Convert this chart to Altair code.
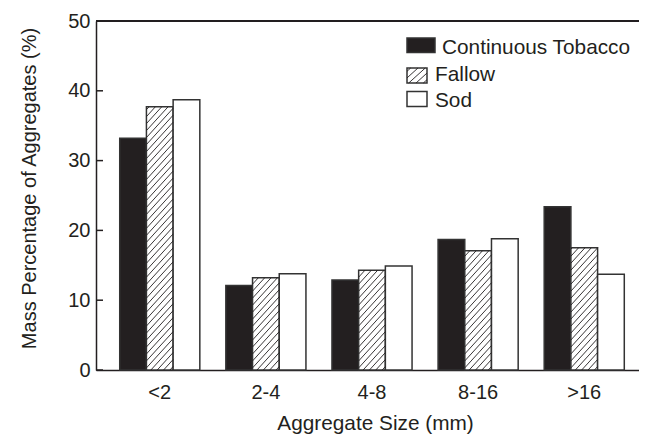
import altair as alt
import pandas as pd
import numpy as np

categories = ["<2", "2-4", "4-8", "8-16", ">16"]
series = ["Continuous Tobacco", "Fallow", "Sod"]
tobacco = [33.2, 12.1, 12.9, 18.7, 23.4]
fallow = [37.7, 13.2, 14.3, 17.1, 17.5]
sod = [38.7, 13.8, 14.9, 18.8, 13.7]
y_ticks = [0, 10, 20, 30, 40, 50]

PLOT_W, PLOT_H = 543, 349
BAR_W = 0.2516
X_DOMAIN = [-0.601, 4.516]
Y_DOMAIN = [0, 50]
INK = "#231f20"
FONT = "Liberation Sans"


def px_to_x(px):
    return X_DOMAIN[0] + px / PLOT_W * (X_DOMAIN[1] - X_DOMAIN[0])


def py_to_y(py):
    return Y_DOMAIN[1] - py / PLOT_H * (Y_DOMAIN[1] - Y_DOMAIN[0])


# ---- bars ----
rows = []
for j, (name, vals) in enumerate(zip(series, [tobacco, fallow, sod])):
    for i, v in enumerate(vals):
        x0 = i + (j - 1) * BAR_W - BAR_W / 2
        rows.append({"series": name, "value": v, "x0": x0, "x1": x0 + BAR_W, "base": 0})
bars_df = pd.DataFrame(rows)


def hatch(xl, xr, lo, hi, rise, step):
    segs = []
    for y0 in np.arange(lo - rise + step / 2, hi, step):
        xa, ya, xb, yb = xl, y0, xr, y0 + rise
        if ya < lo:
            xa = xl + (lo - y0) / rise * (xr - xl)
            ya = lo
        if yb > hi:
            xb = xl + (hi - y0) / rise * (xr - xl)
            yb = hi
        if xb - xa > 1e-6:
            segs.append((xa, ya, xb, yb))
    return segs


# ---- manual legend (pixel positions in plot area, converted to data units) ----
leg_px = {
    "sx0": [311, 311, 311], "sx1": [339, 331, 331],
    "sy0": [17, 47, 70.5], "sy1": [31.5, 62, 85.5],
    "tx": [346, 339, 339], "ty": [33, 60, 85.5],
}
leg_df = pd.DataFrame({
    "series": series,
    "x0": [px_to_x(v) for v in leg_px["sx0"]],
    "x1": [px_to_x(v) for v in leg_px["sx1"]],
    "value": [py_to_y(v) for v in leg_px["sy0"]],
    "base": [py_to_y(v) for v in leg_px["sy1"]],
    "tx": [px_to_x(v) for v in leg_px["tx"]],
    "ty": [py_to_y(v) for v in leg_px["ty"]],
})

hrows = []
for r in bars_df[bars_df.series == "Fallow"].itertuples():
    for (xa, ya, xb, yb) in hatch(r.x0, r.x1, 0, r.value, 4.2, 1.0):
        hrows.append({"hx0": xa, "hy0": ya, "hx1": xb, "hy1": yb})
fl = leg_df[leg_df.series == "Fallow"].iloc[0]
for (xa, ya, xb, yb) in hatch(fl.x0, fl.x1, fl.base, fl.value, 2.6, 0.95):
    hrows.append({"hx0": xa, "hy0": ya, "hx1": xb, "hy1": yb})
hatch_df = pd.DataFrame(hrows)

xscale = alt.Scale(domain=X_DOMAIN, nice=False, zero=False)
yscale = alt.Scale(domain=Y_DOMAIN, nice=False)

x_axis = alt.Axis(orient="bottom", values=[0], labels=False, ticks=False, tickSize=0, grid=False,
                  domainColor=INK, domainWidth=1.5,
                  title="Aggregate Size (mm)",
                  titleFontSize=20.8, titleFontWeight="normal", titleColor=INK,
                  titleX=279, titleY=59, titleBaseline="alphabetic")
y_axis = alt.Axis(orient="left", values=y_ticks, ticks=False, tickSize=0, grid=False,
                  domainColor=INK, domainWidth=1.5,
                  labelFontSize=20, labelColor=INK, labelPadding=6,
                  title="Mass Percentage of Aggregates (%)",
                  titleFontSize=20, titleFontWeight="normal", titleColor=INK,
                  titleX=-61, titleY=167, titleBaseline="alphabetic",
                  titleAngle=270, titleAlign="center")

all_rects = pd.concat([bars_df, leg_df[["series", "value", "x0", "x1", "base"]]], ignore_index=True)

bars = alt.Chart(all_rects).mark_rect(stroke="#333333", strokeWidth=1.5).encode(
    x=alt.X("x0:Q", scale=xscale, axis=x_axis),
    x2="x1:Q",
    y=alt.Y("value:Q", scale=yscale, axis=y_axis),
    y2="base:Q",
    fill=alt.Fill("series:N", scale=alt.Scale(domain=series, range=[INK, "#ffffff", "#ffffff"]),
                  legend=None),
)

hatch_layer = alt.Chart(hatch_df).mark_rule(color=INK, strokeWidth=0.9).encode(
    x=alt.X("hx0:Q", scale=xscale, axis=x_axis),
    x2="hx1:Q",
    y=alt.Y("hy0:Q", scale=yscale, axis=y_axis),
    y2="hy1:Q",
)

yt_df = pd.DataFrame({"yt": y_ticks})
ticks = alt.Chart(yt_df).mark_rule(color=INK, strokeWidth=1.5).encode(
    y=alt.Y("yt:Q", scale=yscale, axis=y_axis),
    x=alt.value(0),
    x2=alt.value(7),
)

top_line = alt.Chart(yt_df).mark_rule(color=INK, strokeWidth=1.5).encode(
    y=alt.value(0), x=alt.value(0), x2=alt.value(PLOT_W)
)

cat_df = pd.DataFrame({"cat": categories, "idx": list(range(len(categories)))})
x_labels = alt.Chart(cat_df).mark_text(align="center", baseline="alphabetic", fontSize=20,
                                       font=FONT, color=INK).encode(
    x=alt.X("idx:Q", scale=xscale, axis=x_axis),
    y=alt.value(PLOT_H + 28.5),
    text="cat:N",
)

leg_text = alt.Chart(leg_df).mark_text(align="left", baseline="alphabetic", fontSize=20.8,
                                       font=FONT, color=INK).encode(
    x=alt.X("tx:Q", scale=xscale, axis=x_axis),
    y=alt.Y("ty:Q", scale=yscale, axis=y_axis),
    text="series:N",
)

chart = alt.layer(bars, hatch_layer, ticks, top_line, x_labels, leg_text).properties(
    width=PLOT_W, height=PLOT_H,
    autosize=alt.AutoSizeParams(type="none"),
    padding={"left": 88, "top": 13, "right": 0, "bottom": 65},
).configure(font=FONT).configure_view(stroke="transparent", strokeWidth=0)

chart.save("out.html", embed_options={"renderer": "svg", "actions": False})
